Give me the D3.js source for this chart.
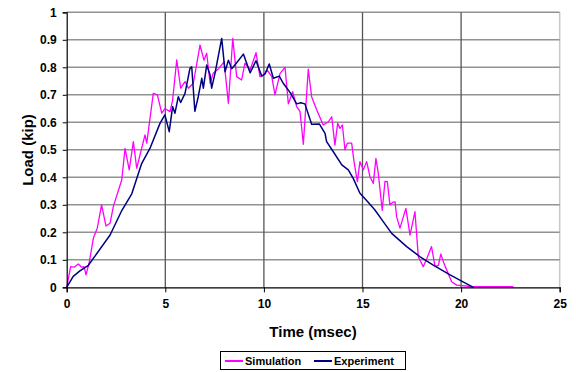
<!DOCTYPE html>
<html><head><meta charset="utf-8">
<script src="https://cdn.jsdelivr.net/npm/d3@7"></script>
<style>body{margin:0;background:#fff}svg{display:block}text{font-family:Arial,"Liberation Sans",sans-serif;font-weight:bold}</style>
</head><body>
<script>
const xTicks = [0,5,10,15,20,25];
const yTicks = [0,0.1,0.2,0.3,0.4,0.5,0.6,0.7,0.8,0.9,1];
const seriesNames = ["Simulation","Experiment"];
const simulation = [[0,0],[0.2,0.075],[0.37,0.073],[0.59,0.085],[0.76,0.073],[0.88,0.075],[0.98,0.045],[1.15,0.093],[1.35,0.178],[1.55,0.215],[1.77,0.3],[1.99,0.223],[2.2,0.233],[2.37,0.295],[2.79,0.39],[2.96,0.505],[3.17,0.427],[3.38,0.53],[3.55,0.433],[3.97,0.554],[4.06,0.524],[4.39,0.705],[4.6,0.7],[4.82,0.633],[4.98,0.65],[5.24,0.639],[5.37,0.68],[5.58,0.827],[5.78,0.724],[6.0,0.748],[6.17,0.724],[6.42,0.742],[6.76,0.881],[6.96,0.826],[7.1,0.851],[7.27,0.742],[7.43,0.778],[7.7,0.795],[7.98,0.82],[8.2,0.669],[8.42,0.905],[8.62,0.766],[8.87,0.754],[9.04,0.815],[9.3,0.79],[9.6,0.853],[9.8,0.766],[9.97,0.772],[10.17,0.79],[10.4,0.766],[10.56,0.7],[10.82,0.778],[11.07,0.8],[11.24,0.667],[11.46,0.711],[11.66,0.657],[11.83,0.64],[12.0,0.52],[12.25,0.793],[12.42,0.693],[12.68,0.645],[13.01,0.59],[13.27,0.602],[13.44,0.62],[13.6,0.517],[13.74,0.596],[13.86,0.578],[13.98,0.59],[14.11,0.5],[14.23,0.524],[14.45,0.524],[14.57,0.457],[14.74,0.384],[14.87,0.457],[15.04,0.427],[15.21,0.457],[15.38,0.402],[15.55,0.378],[15.68,0.469],[15.8,0.415],[16.0,0.28],[16.14,0.385],[16.26,0.384],[16.39,0.3],[16.56,0.31],[16.65,0.311],[16.73,0.257],[16.9,0.215],[17.2,0.287],[17.41,0.19],[17.66,0.275],[17.83,0.111],[18.08,0.075],[18.26,0.105],[18.5,0.148],[18.68,0.075],[18.85,0.08],[18.97,0.121],[19.13,0.087],[19.52,0.02],[19.78,0.008],[20.62,0.002],[22.65,0.002]];
const experiment = [[0,0],[0.33,0.04],[0.67,0.06],[1.1,0.08],[1.35,0.105],[2.2,0.19],[2.8,0.28],[3.3,0.34],[3.8,0.45],[4.22,0.505],[4.73,0.596],[4.98,0.627],[5.2,0.566],[5.37,0.657],[5.49,0.633],[5.66,0.693],[5.78,0.672],[6.0,0.705],[6.25,0.796],[6.34,0.802],[6.5,0.64],[6.67,0.693],[6.85,0.76],[6.93,0.724],[7.1,0.808],[7.27,0.772],[7.35,0.724],[7.52,0.778],[7.86,0.905],[8.03,0.784],[8.2,0.826],[8.37,0.795],[8.6,0.815],[8.96,0.848],[9.3,0.78],[9.6,0.824],[9.89,0.768],[10.06,0.776],[10.27,0.812],[10.48,0.76],[10.78,0.768],[10.98,0.742],[11.36,0.705],[11.66,0.667],[11.87,0.671],[12.08,0.667],[12.42,0.593],[12.81,0.594],[13.1,0.56],[13.18,0.53],[13.52,0.493],[13.95,0.445],[14.28,0.427],[14.53,0.396],[14.87,0.342],[15.3,0.308],[15.63,0.281],[15.97,0.247],[16.48,0.196],[17.24,0.148],[17.92,0.111],[18.59,0.081],[19.44,0.045],[20.1,0.02],[20.62,0]];
const colors = ["#FF00FF","#000080"];

const W=576,H=372;
const svg=d3.select("body").append("svg").attr("width",W).attr("height",H);
const x=d3.scaleLinear().domain([0,25]).range([66.7,559.7]);
const y=d3.scaleLinear().domain([0,1]).range([287.3,12.3]);

// plot border (right edge)
svg.append("line").attr("x1",x(25)).attr("x2",x(25)).attr("y1",y(1)).attr("y2",y(0)).attr("stroke","#c8c8c8").attr("stroke-width",1.5);
// horizontal gridlines
svg.append("g").selectAll("line").data(yTicks.filter(d=>d>0)).join("line")
  .attr("x1",x(0)).attr("x2",x(25)).attr("y1",d=>y(d)).attr("y2",d=>y(d))
  .attr("stroke","#929292").attr("stroke-width",1.6);
// vertical gridlines
svg.append("g").selectAll("line").data(xTicks.filter(d=>d>0&&d<25)).join("line")
  .attr("x1",d=>x(d)).attr("x2",d=>x(d)).attr("y1",y(1)).attr("y2",y(0))
  .attr("stroke","#555").attr("stroke-width",1.3);

const line=d3.line().x(d=>x(d[0])).y(d=>y(d[1]));
svg.append("path").datum(simulation).attr("d",line).attr("fill","none").attr("stroke",colors[0]).attr("stroke-width",1.3).attr("stroke-linejoin","round");
svg.append("path").datum(experiment).attr("d",line).attr("fill","none").attr("stroke",colors[1]).attr("stroke-width",1.5).attr("stroke-linejoin","round");

// axes
const yAxis=svg.append("g").attr("transform",`translate(${x(0)},0)`).call(d3.axisLeft(y).tickValues(yTicks).tickFormat(d3.format("~g")).tickSize(4).tickPadding(6));
const xAxis=svg.append("g").attr("transform",`translate(0,${y(0)})`).call(d3.axisBottom(x).tickValues(xTicks).tickSize(5).tickPadding(7));
[yAxis,xAxis].forEach(a=>{
  a.select(".domain").attr("stroke","#000").attr("stroke-width",1.2);
  a.selectAll(".tick line").attr("stroke","#000");
  a.selectAll("text").attr("font-size",12).attr("font-weight","bold").attr("fill","#000").attr("font-family","Arial, 'Liberation Sans', sans-serif");
});

svg.append("text").attr("x",313).attr("y",337).attr("text-anchor","middle").attr("font-size",15).text("Time (msec)");
svg.append("text").attr("transform","translate(33,150) rotate(-90)").attr("text-anchor","middle").attr("font-size",15).text("Load (kip)");

// legend
const lg=svg.append("g");
lg.append("rect").attr("x",220.5).attr("y",351.5).attr("width",185).attr("height",18).attr("fill","#fff").attr("stroke","#000").attr("stroke-width",1);
const lx=[225,314];
seriesNames.forEach((n,i)=>{
  lg.append("line").attr("x1",lx[i]).attr("x2",lx[i]+18).attr("y1",361).attr("y2",361).attr("stroke",colors[i]).attr("stroke-width",2);
  lg.append("text").attr("x",lx[i]+20).attr("y",365).attr("font-size",11).text(n);
});
</script>
</body></html>
